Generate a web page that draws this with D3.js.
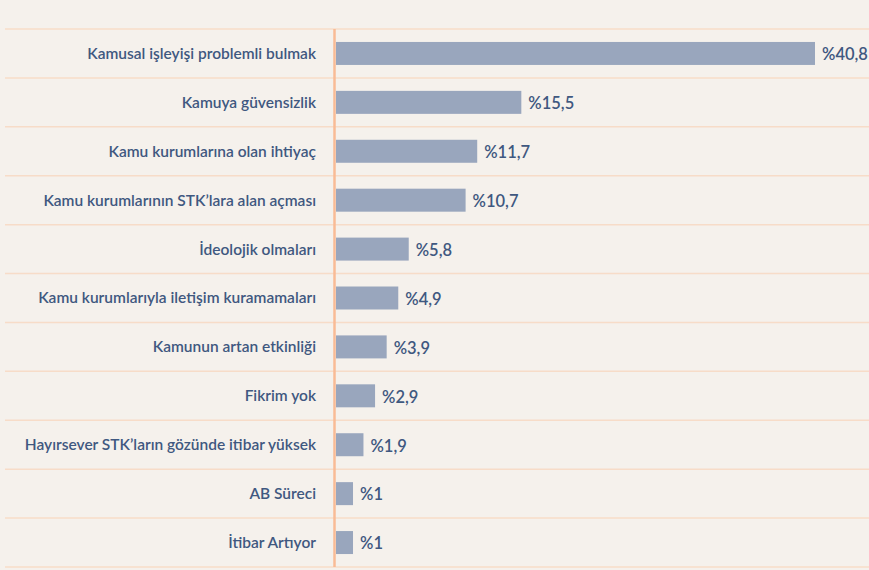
<!DOCTYPE html>
<html>
<head>
<meta charset="utf-8">
<script src="https://cdn.jsdelivr.net/npm/d3@7"></script>
<style>
  html, body { margin: 0; padding: 0; background: #f5f1ec; }
  svg { display: block; }
</style>
</head>
<body>
<svg id="chart" width="869" height="570"></svg>
<script>
// Survey answers, percentages
const categories = [
  "Kamusal işleyişi problemli bulmak",
  "Kamuya güvensizlik",
  "Kamu kurumlarına olan ihtiyaç",
  "Kamu kurumlarının STK’lara alan açması",
  "İdeolojik olmaları",
  "Kamu kurumlarıyla iletişim kuramamaları",
  "Kamunun artan etkinliği",
  "Fikrim yok",
  "Hayırsever STK’ların gözünde itibar yüksek",
  "AB Süreci",
  "İtibar Artıyor"
];
const values = [40.8, 15.5, 11.7, 10.7, 5.8, 4.9, 3.9, 2.9, 1.9, 1, 1];
const valueLabels = ["%40,8", "%15,5", "%11,7", "%10,7", "%5,8", "%4,9", "%3,9", "%2,9", "%1,9", "%1", "%1"];

const W = 869, H = 570;
const rowsTop = 29, rowsBottom = 567;
const axisX = 334.5;
const barStart = 336;

const svg = d3.select("#chart");

svg.append("rect").attr("width", W).attr("height", H).attr("fill", "#f5f1ec");

const y = d3.scaleBand().domain(categories).range([rowsTop, rowsBottom]).padding(0);
// bars keep a small stub beyond the axis, so zero sits a few pixels past the bar start
const x = d3.scaleLinear().domain([0, 40.8]).range([341.4, 815]);

const barH = y.bandwidth() * 0.47;

// row separators
const seps = [rowsTop].concat(categories.map(c => y(c) + y.bandwidth()));
svg.append("g").selectAll("line").data(seps).join("line")
  .attr("x1", 5).attr("x2", W)
  .attr("y1", d => d).attr("y2", d => d)
  .attr("stroke", "#f7dcc8").attr("stroke-width", 1.5);

// bars
svg.append("g").selectAll("rect").data(values).join("rect")
  .attr("x", barStart)
  .attr("y", (d, i) => y(categories[i]) + (y.bandwidth() - barH) / 2)
  .attr("width", d => x(d) - barStart)
  .attr("height", barH)
  .attr("fill", "#99a6bd");

// vertical axis line
svg.append("line")
  .attr("x1", axisX).attr("x2", axisX)
  .attr("y1", rowsTop).attr("y2", rowsBottom)
  .attr("stroke", "#f9bb96").attr("stroke-width", 2.5);

// category labels
svg.append("g").selectAll("text").data(categories).join("text")
  .attr("x", 316)
  .attr("y", d => y(d) + y.bandwidth() / 2)
  .attr("dy", "0.35em")
  .attr("text-anchor", "end")
  .attr("font-family", "Lato, 'Noto Sans', sans-serif")
  .attr("font-weight", 600)
  .attr("font-size", 15.5)
  .attr("fill", "#3f5880")
  .text(d => d);

// value labels
svg.append("g").selectAll("text").data(values).join("text")
  .attr("x", d => x(d) + 7)
  .attr("y", (d, i) => y(categories[i]) + y.bandwidth() / 2 + 1)
  .attr("dy", "0.35em")
  .attr("font-family", "Lato, 'Noto Sans', sans-serif")
  .attr("font-weight", 600)
  .attr("font-size", 16.5)
  .attr("fill", "#3f5880")
  .text((d, i) => valueLabels[i]);
</script>
</body>
</html>
